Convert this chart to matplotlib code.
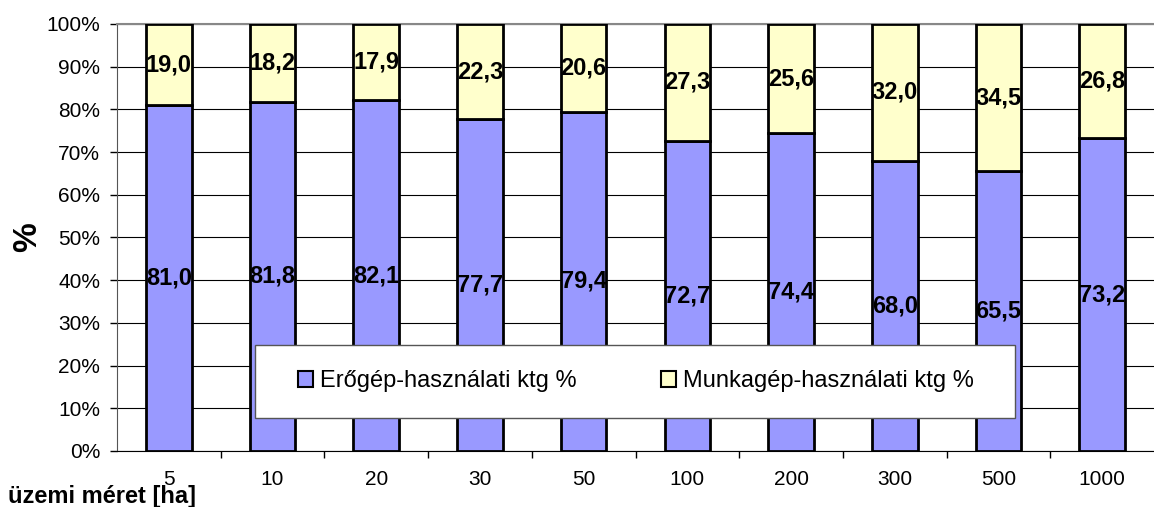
import matplotlib
matplotlib.use("Agg")
import matplotlib.pyplot as plt
from matplotlib.patches import Rectangle
from matplotlib.ticker import FixedLocator, PercentFormatter

plt.rcParams['font.family'] = ['Liberation Sans', 'DejaVu Sans']

categories = ['5', '10', '20', '30', '50', '100', '200', '300', '500', '1000']
eroegep = [81.0, 81.8, 82.1, 77.7, 79.4, 72.7, 74.4, 68.0, 65.5, 73.2]
munkagep = [19.0, 18.2, 17.9, 22.3, 20.6, 27.3, 25.6, 32.0, 34.5, 26.8]
series_names = ['Erőgép-használati ktg %', 'Munkagép-használati ktg %']

blue = '#9999FF'
yellow = '#FFFFCC'

fig = plt.figure(figsize=(11.54, 5.07), dpi=100)
ax = fig.add_axes([117 / 1154, 1 - 451 / 507, 1037 / 1154, 427 / 507])

x = list(range(len(categories)))
ax.bar(x, eroegep, width=0.44, color=blue, edgecolor='black', linewidth=2,
       label=series_names[0], zorder=3)
ax.bar(x, munkagep, width=0.44, bottom=eroegep, color=yellow, edgecolor='black',
       linewidth=2, label=series_names[1], zorder=3)

for i in x:
    ax.text(i, eroegep[i] / 2, f"{eroegep[i]:.1f}".replace('.', ','), ha='center',
            va='center', fontsize=17, fontweight='bold', zorder=4)
    ax.text(i, eroegep[i] + munkagep[i] / 2, f"{munkagep[i]:.1f}".replace('.', ','),
            ha='center', va='center', fontsize=17, fontweight='bold', zorder=4)

ax.set_xlim(-0.5, len(categories) - 0.5)
ax.set_ylim(0, 100)
ax.set_yticks(range(0, 101, 10))
ax.yaxis.set_major_formatter(PercentFormatter(decimals=0))
ax.tick_params(axis='y', labelsize=15, length=5, width=1, direction='out', pad=7)

# ticks between categories, labels at centres
ax.xaxis.set_major_locator(FixedLocator([i + 0.5 for i in x[:-1]]))
ax.xaxis.set_major_formatter(plt.NullFormatter())
ax.xaxis.set_minor_locator(FixedLocator(x))
ax.set_xticklabels(categories, minor=True)
ax.tick_params(axis='x', which='major', length=5, width=1, direction='out')
ax.tick_params(axis='x', which='minor', length=0, labelsize=15, pad=14)

ax.grid(axis='y', color='black', linewidth=0.8, zorder=0)
ax.set_axisbelow(True)
ax.spines['right'].set_visible(False)
ax.spines['top'].set_color('#888888')
ax.spines['top'].set_linewidth(1.5)
ax.spines['left'].set_color('#555555')
ax.spines['bottom'].set_color('black')

# legend box drawn separately so the entries can sit where the original has them
ax.add_patch(Rectangle((138 / 1037, 33 / 427), 760 / 1037, 73 / 427,
                       transform=ax.transAxes, facecolor='white', edgecolor='#555555',
                       linewidth=1, zorder=5))
leg = ax.legend(loc='center', ncol=2, bbox_to_anchor=(0.5005, 0.163),
                fontsize=17, frameon=False, handlelength=0.64, handleheight=0.64,
                handletextpad=0.3, columnspacing=3.56, borderpad=0, borderaxespad=0)
leg.set_zorder(6)
for h in leg.legend_handles:
    h.set_linewidth(1.5)

fig.text(28 / 1154, 1 - 237 / 507, '%', rotation=90, ha='center', va='center',
         fontsize=24, fontweight='bold')
fig.text(8 / 1154, 1 - 503 / 507, 'üzemi méret [ha]', ha='left', va='baseline',
         fontsize=17, fontweight='bold')

fig.savefig('out.png', dpi=100)
